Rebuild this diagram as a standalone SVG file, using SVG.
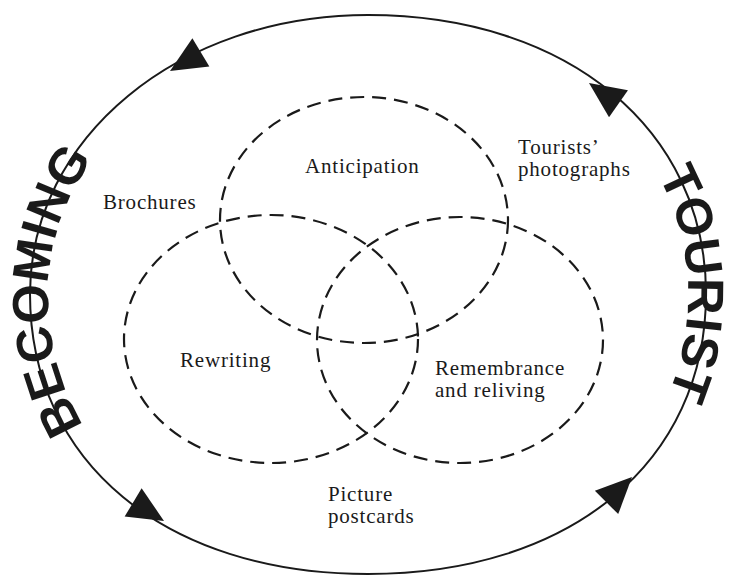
<svg xmlns="http://www.w3.org/2000/svg" xmlns:xlink="http://www.w3.org/1999/xlink" width="731" height="577" viewBox="0 0 731 577">
  <style>
    .outline { fill: none; stroke: #1a1a1a; stroke-width: 2; }
    .set { fill: none; stroke: #1a1a1a; stroke-width: 2.2; stroke-dasharray: 14 8; }
    .label { font-family: "Liberation Serif", "Times New Roman", serif; font-size: 21px; letter-spacing: 0.8px; fill: #1a1a1a; }
    .big { font-family: "Liberation Sans", Arial, sans-serif; font-weight: bold; font-size: 51px; letter-spacing: 3px; fill: #1a1a1a; }
    .head { fill: #1a1a1a; }
  </style>
  <defs>
    <!-- closed loop, clockwise from the bottom point -->
    <path id="loop" d="M368,574 C165.2,574 30,462 30,294 C30,137.8 178.7,15 368,15 C567.4,15 706,129.4 706,294 C706,462 570.8,574 368,574 Z"/>
    <!-- triangular arrowhead, tip at origin pointing along +x -->
    <path id="arrowhead" d="M0,0 L-36,-16.5 L-36,16.5 Z"/>
  </defs>

  <!-- outer cycle -->
  <g id="cycle">
    <use xlink:href="#loop" class="outline"/>
    <text class="big"><textPath xlink:href="#loop" startOffset="25.4%" text-anchor="middle"><tspan dy="18">BECOMING</tspan></textPath></text>
    <text class="big"><textPath xlink:href="#loop" startOffset="74.4%" text-anchor="middle"><tspan dy="18">TOURIST</tspan></textPath></text>
  </g>

  <!-- direction markers on the cycle (anticlockwise flow) -->
  <g id="connectors">
    <use xlink:href="#arrowhead" class="head" transform="translate(170,71) rotate(149)"/>
    <use xlink:href="#arrowhead" class="head" transform="translate(589,83) rotate(215)"/>
    <use xlink:href="#arrowhead" class="head" transform="translate(632,477) rotate(-45)"/>
    <use xlink:href="#arrowhead" class="head" transform="translate(164,521) rotate(31)"/>
  </g>

  <!-- overlapping stages -->
  <g id="anticipation">
    <ellipse class="set" cx="364" cy="220" rx="144" ry="123"/>
    <text class="label" x="305" y="173">Anticipation</text>
  </g>
  <g id="rewriting">
    <ellipse class="set" cx="271" cy="339" rx="147" ry="124"/>
    <text class="label" x="180" y="367">Rewriting</text>
  </g>
  <g id="remembrance">
    <ellipse class="set" cx="460" cy="340" rx="143" ry="123"/>
    <text class="label" x="435" y="375">Remembrance</text>
    <text class="label" x="435" y="397">and reliving</text>
  </g>

  <!-- media around the stages -->
  <g id="brochures">
    <text class="label" x="103" y="209">Brochures</text>
  </g>
  <g id="photographs">
    <text class="label" x="518" y="154">Tourists’</text>
    <text class="label" x="518" y="176">photographs</text>
  </g>
  <g id="postcards">
    <text class="label" x="328" y="501">Picture</text>
    <text class="label" x="328" y="523">postcards</text>
  </g>
</svg>
